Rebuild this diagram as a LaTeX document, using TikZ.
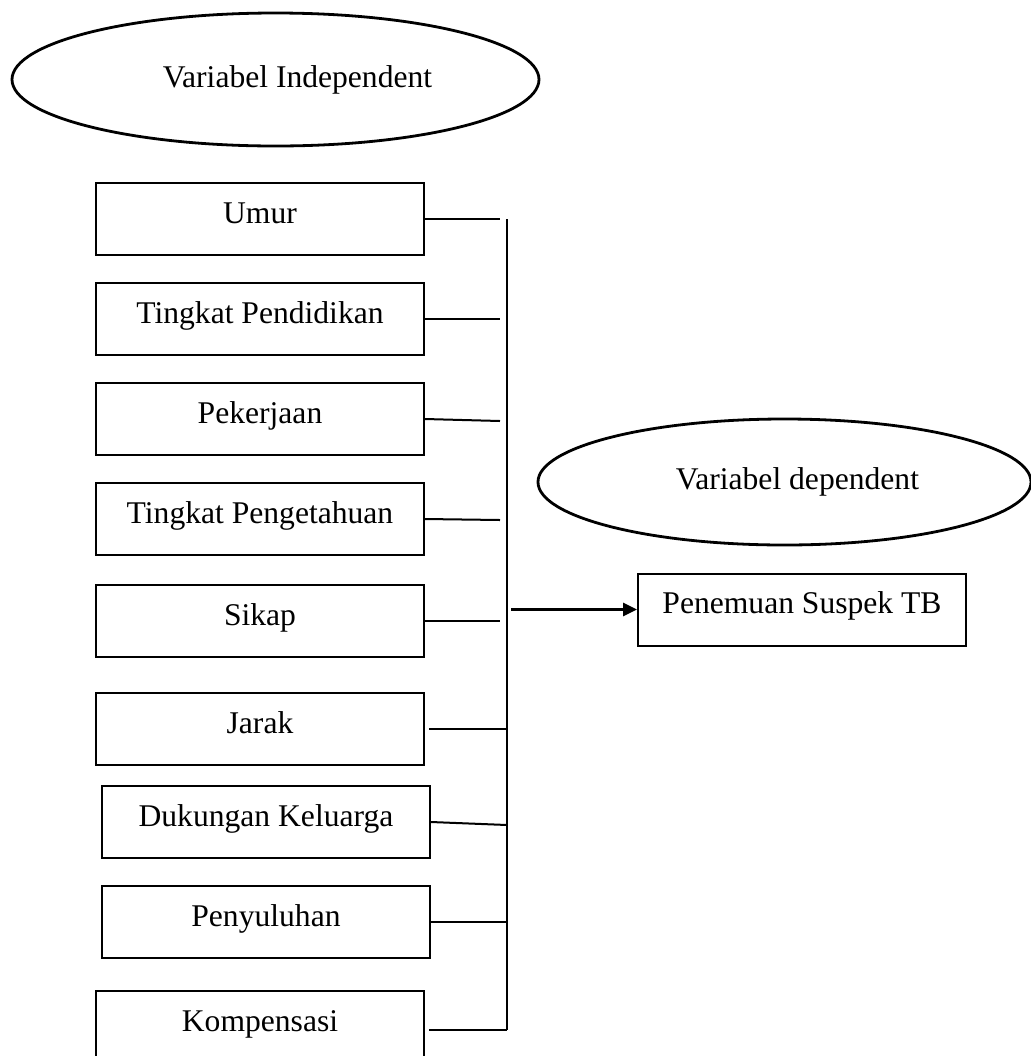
\documentclass[tikz,border=0pt]{standalone}
\usepackage{fontspec}
\setmainfont{Liberation Serif}
\usetikzlibrary{shapes.geometric,arrows.meta,positioning}

\begin{document}
\begin{tikzpicture}[x=0.5pt,y=-0.5pt,font=\fontsize{15.8}{19}\selectfont]
        \tikzstyle{box} = [rectangle, minimum width=164pt, minimum height=36pt, inner sep=0pt, text height=10.5pt, text depth=6.5pt, text centered, draw=black, line width=1pt, node distance=50pt]
        \tikzstyle{oval} = [ellipse, draw=black, line width=1.4pt, inner sep=0pt]
        \tikzstyle{link} = [line width=1pt]
        \tikzstyle{arrow} = [line width=1.5pt,-{Triangle[length=7pt,width=6.5pt]}]

                \useasboundingbox (0,0) rectangle (1031,1056);

                \node (indep) [oval, minimum width=263.5pt, minimum height=66.5pt, label={[xshift=11pt]center:Variabel Independent}] at (275.5,79.5) {};

                \node (umur) [box] at (260,219) {Umur};
                \node (pendidikan) [box, below of=umur] {Tingkat Pendidikan};
                \node (pekerjaan) [box, below of=pendidikan] {Pekerjaan};
                \node (pengetahuan) [box, below of=pekerjaan] {Tingkat Pengetahuan};
                \node (sikap) [box, below of=pengetahuan, yshift=-1pt] {Sikap};
                \node (jarak) [box, below of=sikap, yshift=-4pt] {Jarak};
                \node (dukungan) [box, below of=jarak, xshift=3pt, yshift=3.5pt] {Dukungan Keluarga};
                \node (penyuluhan) [box, below of=dukungan] {Penyuluhan};
                \node (kompensasi) [box, below of=penyuluhan, xshift=-3pt, yshift=-2.5pt] {Kompensasi};

                \node (dep) [oval, minimum width=246.5pt, minimum height=63pt, label={[xshift=6.5pt]center:Variabel dependent}] at (784.5,482) {};
                \node (penemuan) [box] at (802,609.5) {Penemuan Suspek TB};

                \coordinate (bartop) at (507,219);

                % the first rows stop short of the bar
                \draw[link] (umur.east) -- ([xshift=-3.5pt]bartop);
                \draw[link] (pendidikan.east) -- ([xshift=-3.5pt]pendidikan.east -| bartop);
                \draw[link] (pekerjaan.east) -- ([xshift=-3.5pt,yshift=-1pt]pekerjaan.east -| bartop);
                \draw[link] (pengetahuan.east) -- ([xshift=-3.5pt,yshift=-0.5pt]pengetahuan.east -| bartop);
                \draw[link] (sikap.east) -- ([xshift=-3.5pt]sikap.east -| bartop);
                \draw[link] ([xshift=2pt]jarak.east) -- (jarak.east -| bartop);
                \draw[link] (dukungan.east) -- ([yshift=-1.5pt]dukungan.east -| bartop);
                \draw[link] (penyuluhan.east) -- (penyuluhan.east -| bartop);
                \draw[link] ([xshift=2pt,yshift=-1.5pt]kompensasi.east) -- ([yshift=-1.5pt]kompensasi.east -| bartop);
                \draw[link] (bartop) -- ([yshift=-1.5pt]kompensasi.east -| bartop);
                \draw[arrow] ([xshift=2pt]penemuan.west -| bartop) -- (penemuan.west);
\end{tikzpicture}
\end{document}
